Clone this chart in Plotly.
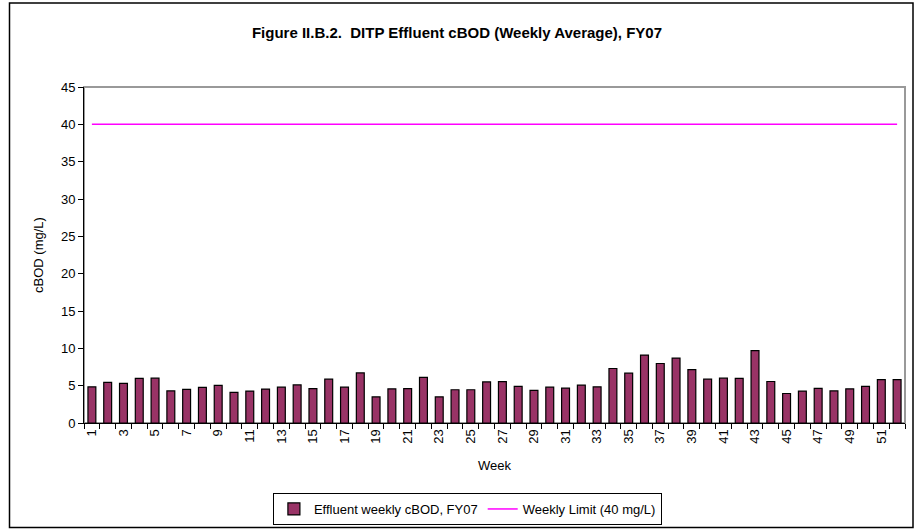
import plotly.graph_objects as go

weeks = list(range(1, 53))
cbod = [4.85, 5.45, 5.3, 5.98, 6.0, 4.3, 4.5, 4.78, 5.05, 4.1,
        4.28, 4.55, 4.8, 5.1, 4.6, 5.87, 4.8, 6.7, 3.5, 4.57,
        4.6, 6.1, 3.5, 4.45, 4.45, 5.5, 5.53, 4.9, 4.37, 4.8,
        4.67, 5.07, 4.85, 7.3, 6.67, 9.1, 7.97, 8.7, 7.16, 5.87,
        6.0, 5.97, 9.7, 5.56, 3.95, 4.27, 4.63, 4.3, 4.57, 4.9,
        5.8, 5.8]
limit = [40] * len(weeks)
x_tick_vals = list(range(1, 53, 2))
x_tick_text = [str(v) for v in x_tick_vals]

FONT = "Liberation Sans, Arial, sans-serif"

fig = go.Figure()
fig.add_trace(go.Bar(
    x=weeks, y=cbod, name="Effluent weekly cBOD, FY07",
    width=0.5,
    marker=dict(color="#993366", line=dict(color="#000000", width=1.2)),
))
fig.add_trace(go.Scatter(
    x=weeks, y=limit, name="Weekly Limit (40 mg/L)", mode="lines",
    line=dict(color="#FF00FF", width=1.5),
))

fig.update_layout(
    width=915, height=529,
    margin=dict(l=84, r=10, t=87, b=106, autoexpand=False),
    paper_bgcolor="white", plot_bgcolor="white",
    font=dict(family=FONT, size=13, color="#000000"),
    title=dict(text="<b>Figure II.B.2.  DITP Effluent cBOD (Weekly Average), FY07</b>",
               x=(457 - 84) / 821, xref="paper", y=1 - 33 / 529, yanchor="middle",
               font=dict(size=15, family=FONT)),
    showlegend=True,
    legend=dict(orientation="h", x=0.467, xanchor="center",
                yref="container", y=1 - 493 / 529, yanchor="top",
                bordercolor="#000000", borderwidth=1, font=dict(size=13),
                traceorder="normal", tracegroupgap=0),
    bargap=0.5,
    shapes=[
        dict(type="rect", xref="paper", yref="paper", x0=0, x1=1, y0=0, y1=1,
             line=dict(color="#999999", width=2), layer="below"),
        dict(type="rect", xref="paper", yref="paper",
             x0=(9.5 - 84) / 821, x1=(913 - 84) / 821,
             y0=(423 - 527.5) / 336, y1=(423 - 3) / 336,
             line=dict(color="#000000", width=1.5), layer="below"),
    ],
)

fig.update_xaxes(
    range=[0.5, 52.5], tickmode="array", tickvals=x_tick_vals, ticktext=x_tick_text,
    tickangle=-90, ticks="", showgrid=False, zeroline=False,
    showline=True, linecolor="#000000", linewidth=1,
    minor=dict(ticks="outside", tickmode="linear", tick0=0.5, dtick=1,
               ticklen=5, tickcolor="#000000", showgrid=False),
    title=dict(text="Week", standoff=18, font=dict(size=13)),
    tickfont=dict(size=13), automargin=False,
)
fig.update_yaxes(
    range=[0, 45], dtick=5, ticks="outside", ticklen=5, tickcolor="#000000",
    showgrid=False, zeroline=False, showline=True, linecolor="#000000", linewidth=1,
    title=dict(text="cBOD (mg/L)", standoff=14, font=dict(size=13)),
    tickfont=dict(size=13), automargin=False,
)

fig.write_html("out.html", config={"displayModeBar": False},
               post_script="document.body.style.margin='0';document.body.style.padding='0';")
